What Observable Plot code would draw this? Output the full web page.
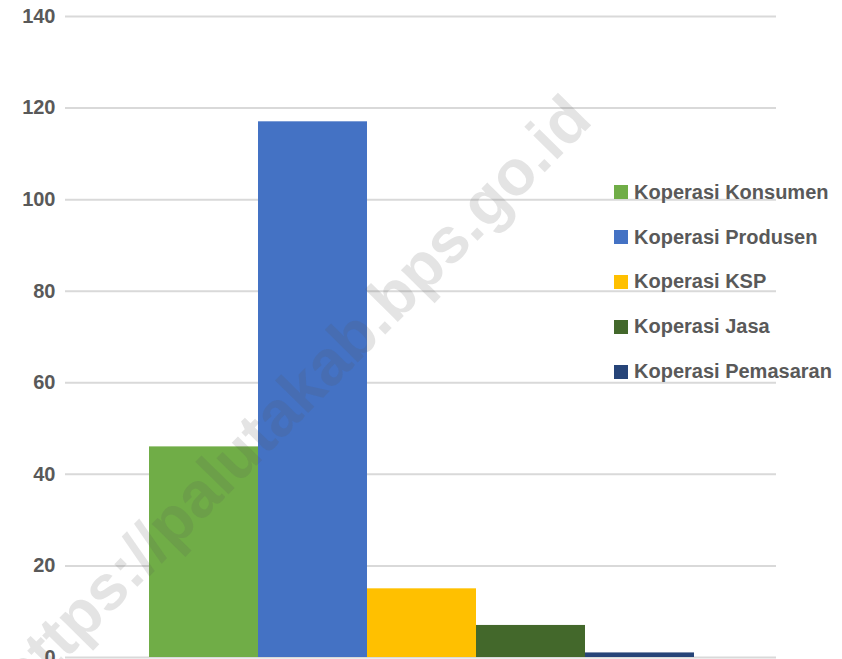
<!DOCTYPE html>
<html>
<head>
<meta charset="utf-8">
<script src="https://cdn.jsdelivr.net/npm/d3@7"></script>
<script src="https://cdn.jsdelivr.net/npm/@observablehq/plot@0.6"></script>
<style>
  html, body { margin: 0; padding: 0; background: #fff; }
  #wrap { position: relative; width: 842px; height: 659px; overflow: hidden; }
  #legend { position: absolute; left: 614px; top: 170px; font-family: "Liberation Sans", Arial, sans-serif; font-weight: bold; font-size: 20px; color: #595959; }
  #legend .row { display: flex; align-items: center; height: 44.8px; white-space: nowrap; }
  #legend .sw { width: 14px; height: 14px; margin-right: 6px; flex: none; }
  #wm { position: absolute; left: 293px; top: 397px; transform: translate(-50%, -50%) rotate(-45.5deg); font-family: "Liberation Sans", Arial, sans-serif; font-weight: bold; font-size: 64px; color: rgba(90,90,90,0.16); white-space: nowrap; pointer-events: none; }
</style>
</head>
<body>
<div id="wrap"></div>
<script>
const categories = ["Koperasi Konsumen", "Koperasi Produsen", "Koperasi KSP", "Koperasi Jasa", "Koperasi Pemasaran"];
const values = [46, 117, 15, 7, 1];
const colors = ["#70ad47", "#4472c4", "#ffc000", "#43682b", "#264478"];
const yTicks = [0, 20, 40, 60, 80, 100, 120, 140];
const watermark = "https://palutakab.bps.go.id";

const data = categories.map((c, i) => ({name: c, value: values[i]}));

const chart = Plot.plot({
  width: 842,
  height: 659,
  marginTop: 16,
  marginBottom: 2,
  marginLeft: 65,
  marginRight: 66,
  style: {background: "transparent", fontFamily: "Liberation Sans, Arial, sans-serif"},
  x: {domain: categories, range: [147, 695], padding: 0, axis: null},
  y: {domain: [0, 140], axis: null},
  color: {domain: categories, range: colors},
  marks: [
    Plot.ruleY(yTicks, {stroke: "#d9d9d9", strokeWidth: 2}),
    Plot.barY(data, {x: "name", y: "value", fill: "name"}),
    Plot.axisY({ticks: yTicks, tickSize: 0, tickPadding: 10, fontSize: 20, fontWeight: "bold", fill: "#595959", label: null, tickFormat: d => String(d)})
  ]
});

const wrap = document.getElementById("wrap");
wrap.appendChild(chart);

const legend = document.createElement("div");
legend.id = "legend";
categories.forEach((c, i) => {
  const row = document.createElement("div");
  row.className = "row";
  const sw = document.createElement("span");
  sw.className = "sw";
  sw.style.background = colors[i];
  const t = document.createElement("span");
  t.textContent = c;
  row.appendChild(sw);
  row.appendChild(t);
  legend.appendChild(row);
});
wrap.appendChild(legend);

const wm = document.createElement("div");
wm.id = "wm";
wm.textContent = watermark;
wrap.appendChild(wm);
</script>
</body>
</html>
